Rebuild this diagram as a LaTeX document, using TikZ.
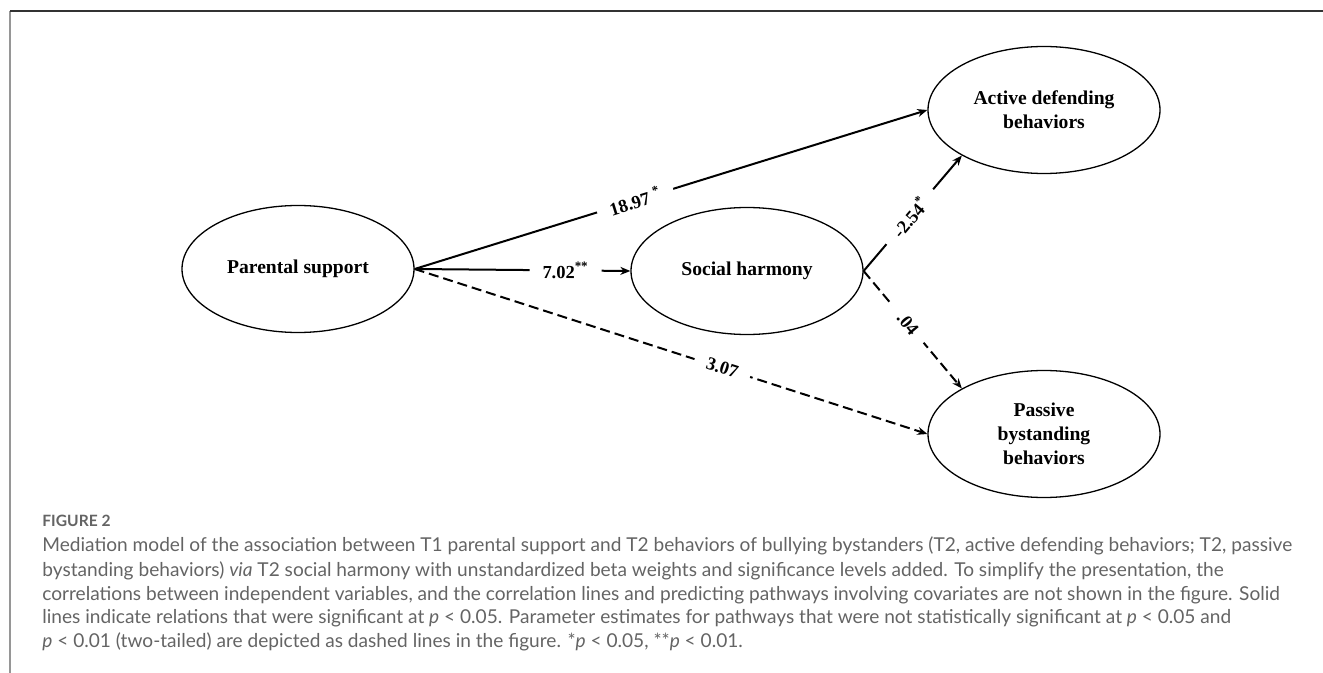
\documentclass[tikz,border=0pt]{standalone}
\usepackage{fontspec}
\setmainfont{Liberation Serif}
\newfontfamily\captionfont{Lato}
\usetikzlibrary{shapes.geometric,arrows.meta}
\definecolor{captiongray}{RGB}{100,100,100}
\definecolor{framegray}{RGB}{150,150,150}
\tikzset{
  latent/.style={ellipse, draw, line width=0.65pt, minimum width=116pt,
    minimum height=63.5pt, inner sep=0pt, align=center,
    font=\fontsize{9.8}{12}\selectfont\bfseries},
  effect/.style={line width=1pt, -{Stealth[length=5pt,width=4pt]}},
  nonsig/.style={dash pattern=on 5pt off 2.5pt},
  weight/.style={sloped, fill=white, inner xsep=6.5pt, inner ysep=1pt,
    font=\fontsize{9.2}{10}\selectfont\bfseries},
  captionline/.style={anchor=base west, inner sep=0pt, text=captiongray,
    font=\captionfont\fontsize{9.55}{11}\selectfont}
}
\begin{document}
\begin{tikzpicture}[x=0.5pt,y=-0.5pt]
      \useasboundingbox (0,0) rectangle (1323,673);
      % frame of the figure panel
      \draw[framegray, line width=1pt] (10,11) -- (10,673);
      \draw[black!80, line width=0.6pt] (10,11) -- (1323,11);
      \draw
        (298,269) node[latent] (parent){Parental support}
        (747,271) node[latent] (harmony){Social harmony}
        (1044,110) node[latent] (active){Active defending\\behaviors}
        (1044,434) node[latent] (passive){Passive\\bystanding\\behaviors};
      \begin{scope}[effect]
        \draw (parent.east) to node[weight, pos=0.43]{18.97 \textsuperscript{*}} (active.west);
        \draw (parent.east) to node[weight, pos=0.7]{7.02\textsuperscript{**}} (harmony.west);
        \draw[nonsig] (parent.east) to node[weight, pos=0.6]{3.07} (passive.west);
        \draw (harmony.east) to node[weight, pos=0.47]{-2.54\textsuperscript{*}} (active.209);
        \draw[nonsig] (harmony.east) to node[weight, pos=0.45]{.04} (passive.151);
      \end{scope}
      % caption
      \node[captionline, font=\captionfont\bfseries\fontsize{7.8}{9}\selectfont] (fig) at (42,527) {FIGURE 2};
      \node[captionline] (cap1) at (42,552) {Mediation model of the association between T1 parental support and T2 behaviors of bullying bystanders (T2, active defending behaviors; T2, passive};
      \node[captionline] (cap2) at (42,576) {bystanding behaviors) \textit{via} T2 social harmony with unstandardized beta weights and significance levels added. To simplify the presentation, the};
      \node[captionline] (cap3) at (42,600) {correlations between independent variables, and the correlation lines and predicting pathways involving covariates are not shown in the figure. Solid};
      \node[captionline] (cap4) at (42,623) {lines indicate relations that were significant at \textit{p} < 0.05. Parameter estimates for pathways that were not statistically significant at \textit{p} < 0.05 and};
      \node[captionline] (cap5) at (42,647) {\textit{p} < 0.01 (two-tailed) are depicted as dashed lines in the figure. *\textit{p} < 0.05, **\textit{p} < 0.01.};
    \end{tikzpicture}
\end{document}
